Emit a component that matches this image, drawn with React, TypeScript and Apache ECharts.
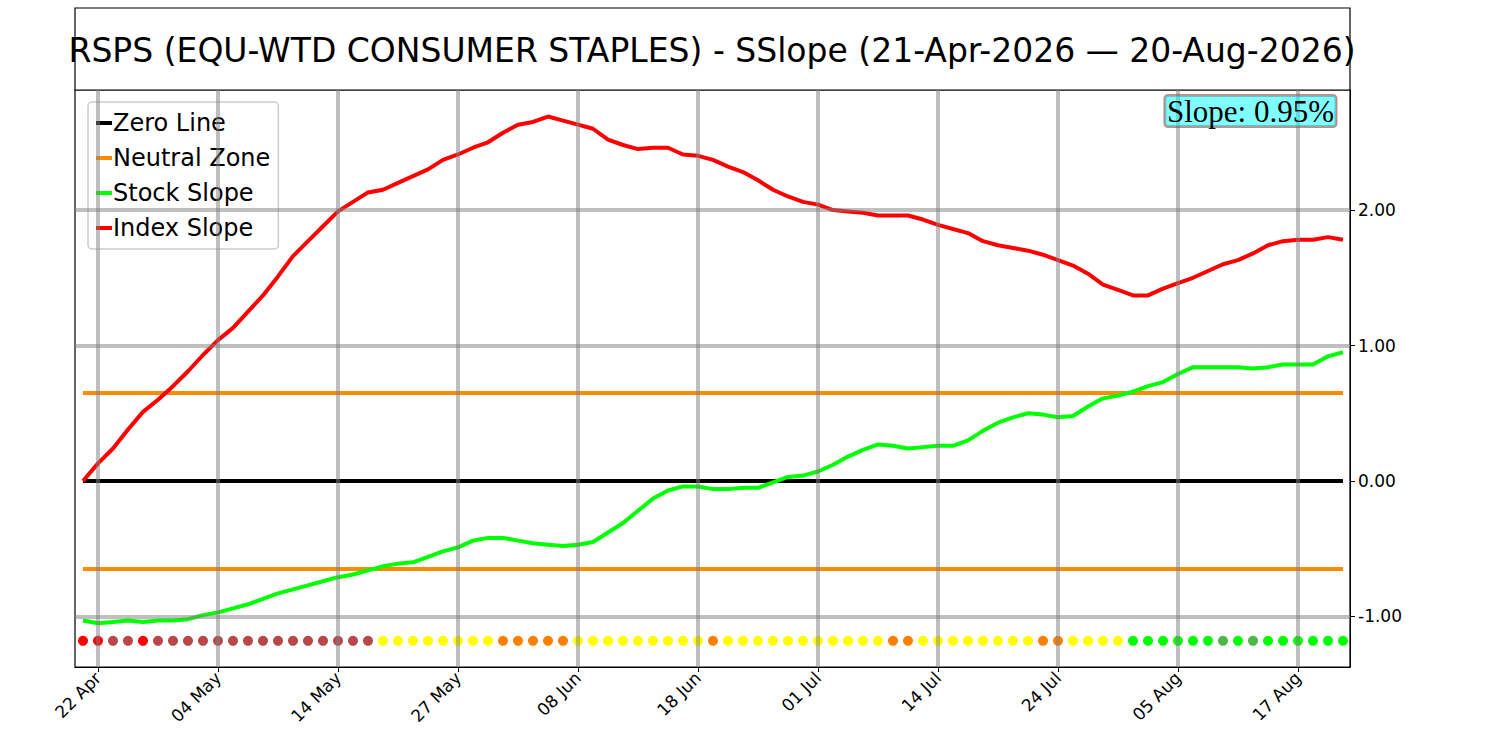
import { useRef, useEffect } from "react";
import * as echarts from "echarts";

const indexSlope = [
  0, 0.13, 0.24, 0.38, 0.51, 0.6, 0.7, 0.81, 0.93, 1.04, 1.13, 1.25, 1.37, 1.51, 1.66, 1.77, 1.88,
  1.99, 2.06, 2.13, 2.15, 2.2, 2.25, 2.3, 2.37, 2.41, 2.46, 2.5, 2.57, 2.63, 2.65, 2.69, 2.66, 2.63,
  2.6, 2.52, 2.48, 2.45, 2.46, 2.46, 2.41, 2.4, 2.37, 2.32, 2.28, 2.22, 2.15, 2.1, 2.06, 2.04, 2.0,
  1.99, 1.98, 1.96, 1.96, 1.96, 1.93, 1.89, 1.86, 1.83, 1.77, 1.74, 1.72, 1.7, 1.67, 1.63, 1.59,
  1.53, 1.45, 1.41, 1.37, 1.37, 1.42, 1.46, 1.5, 1.55, 1.6, 1.63, 1.68, 1.74, 1.77, 1.78, 1.78,
  1.8, 1.78,
];

const stockSlope = [
  -1.03, -1.05, -1.04, -1.03, -1.04, -1.03, -1.03, -1.02, -0.99, -0.97, -0.94, -0.91, -0.87, -0.83,
  -0.8, -0.77, -0.74, -0.71, -0.69, -0.66, -0.63, -0.61, -0.6, -0.56, -0.52, -0.49, -0.44, -0.42,
  -0.42, -0.44, -0.46, -0.47, -0.48, -0.47, -0.45, -0.38, -0.31, -0.22, -0.13, -0.07, -0.04, -0.04,
  -0.06, -0.06, -0.05, -0.05, -0.01, 0.03, 0.04, 0.07, 0.12, 0.18, 0.23, 0.27, 0.26, 0.24, 0.25,
  0.26, 0.26, 0.3, 0.37, 0.43, 0.47, 0.5, 0.49, 0.47, 0.48, 0.55, 0.61, 0.63, 0.66, 0.7, 0.73, 0.79,
  0.84, 0.84, 0.84, 0.84, 0.83, 0.84, 0.86, 0.86, 0.86, 0.92, 0.95,
];

// R red, B brown, Y yellow, O orange, G green, D dark green
const dotCodes =
  "RRBBRBBBBBBBBBBBBBBB" + "YYYYYYYY" + "OOOOO" + "YYYYYYYYY" + "O" + "YYYYYYYYYYY" + "OO" +
  "YYYYYYYY" + "OO" + "YYYY" + "GGGGGGDGDGGGGGG";
const dotColors: Record<string, string> = {
  R: "#ff0000",
  B: "#b94747",
  Y: "#ffff00",
  O: "#ff8000",
  G: "#00ff00",
  D: "#4cb846",
};

const tickIdx = [1, 9, 17, 25, 33, 41, 49, 57, 65, 73, 81];
const tickLabels = [
  "22 Apr", "04 May", "14 May", "27 May", "08 Jun", "18 Jun",
  "01 Jul", "14 Jul", "24 Jul", "05 Aug", "17 Aug",
];
const yTicks = [-1, 0, 1, 2];
const neutral = 0.65;
const dotLevel = -1.18;

const App = () => {
  const chartRef = useRef<HTMLDivElement>(null);

  useEffect(() => {
    document.body.style.margin = "0";
    if (!chartRef.current) return;
    const chart = echarts.init(chartRef.current, null, { renderer: "svg" });
    const last = indexSlope.length - 1;
    const grey = "rgba(128,128,128,0.5)";
    const font = "DejaVu Sans";

    chart.setOption({
      animation: false,
      textStyle: { fontFamily: font },
      grid: { left: 75, right: 150, top: 90, bottom: 83, show: true, borderColor: "#000", borderWidth: 1.2 },
      xAxis: {
        type: "value",
        min: -0.533,
        max: 84.467,
        axisLine: { show: true, onZero: false, lineStyle: { color: "#000" } },
        axisTick: { show: true, customValues: tickIdx, lineStyle: { color: "#000" } },
        axisLabel: {
          customValues: tickIdx,
          rotate: 45,
          color: "#000",
          fontSize: 17,
          formatter: (v: number) => tickLabels[tickIdx.indexOf(Math.round(v))] ?? "",
        },
        splitLine: { show: false },
      },
      yAxis: {
        type: "value",
        position: "right",
        min: -1.373,
        max: 2.886,
        axisLine: { show: true, onZero: false, lineStyle: { color: "#000" } },
        axisTick: { show: true, customValues: yTicks, lineStyle: { color: "#000" } },
        axisLabel: {
          customValues: yTicks,
          color: "#000",
          fontSize: 17,
          formatter: (v: number) => v.toFixed(2),
        },
        splitLine: { show: false },
      },
      legend: {
        data: ["Zero Line", "Neutral Zone", "Stock Slope", "Index Slope"],
        orient: "vertical",
        left: 88,
        top: 102,
        icon: "rect",
        itemWidth: 16,
        itemHeight: 4,
        itemGap: 11,
        padding: [9, 8, 9, 8],
        backgroundColor: "rgba(255,255,255,0.8)",
        borderColor: "#cccccc",
        borderWidth: 1.5,
        borderRadius: 4,
        textStyle: { fontSize: 24, color: "#000", padding: [0, 0, 0, -4] },
      },
      graphic: [
        {
          type: "rect",
          shape: { x: 75, y: 8, width: 1275, height: 82 },
          style: { fill: "#fff", stroke: "#000", lineWidth: 1.2 },
        },
        {
          type: "text",
          x: 712,
          y: 50,
          style: {
            text: "RSPS (EQU-WTD CONSUMER STAPLES) - SSlope (21-Apr-2026 \u2014 20-Aug-2026)",
            font: `33px "${font}"`,
            fill: "#000",
            align: "center",
            verticalAlign: "middle",
          },
        },
        {
          type: "text",
          x: 1336,
          y: 111,
          z: 100,
          style: {
            text: "Slope: 0.95%",
            font: '31px "Liberation Serif"',
            fill: "#000",
            align: "right",
            verticalAlign: "middle",
            backgroundColor: "rgba(0,255,255,0.5)",
            borderColor: "rgba(160,60,60,0.6)",
            borderWidth: 1.5,
            borderRadius: 3,
            padding: [0, 2, 0, 2],
          },
        },
      ],
      series: [
        {
          name: "grid",
          type: "line",
          data: [],
          silent: true,
          markLine: {
            symbol: "none",
            silent: true,
            label: { show: false },
            lineStyle: { color: grey, width: 4, type: "solid" },
            data: [
              ...tickIdx.map((i) => ({ xAxis: i })),
              ...yTicks.filter((v) => v !== 0).map((v) => ({ yAxis: v })),
            ],
          },
        },
        {
          name: "Zero Line",
          type: "line",
          data: [[0, 0], [last, 0]],
          symbol: "none",
          color: "#000",
          lineStyle: { color: "#000", width: 4 },
        },
        {
          name: "Neutral Zone",
          type: "line",
          data: [[0, neutral], [last, neutral]],
          symbol: "none",
          color: "#ff8c00",
          lineStyle: { color: "#ff8c00", width: 4 },
        },
        {
          name: "Neutral Zone",
          type: "line",
          data: [[0, -neutral], [last, -neutral]],
          symbol: "none",
          color: "#ff8c00",
          lineStyle: { color: "#ff8c00", width: 4 },
        },
        {
          name: "Stock Slope",
          type: "line",
          data: stockSlope.map((v, i) => [i, v]),
          symbol: "none",
          color: "#00ff00",
          lineStyle: { color: "#00ff00", width: 4 },
        },
        {
          name: "Index Slope",
          type: "line",
          data: indexSlope.map((v, i) => [i, v]),
          symbol: "none",
          color: "#ff0000",
          lineStyle: { color: "#ff0000", width: 4 },
        },
        {
          name: "dots",
          type: "scatter",
          symbolSize: 10,
          data: dotCodes.split("").map((c, i) => ({
            value: [i, dotLevel],
            itemStyle: { color: dotColors[c], opacity: 1 },
          })),
        },
      ],
    });

    return () => chart.dispose();
  }, []);

  return <div ref={chartRef} style={{ width: 1500, height: 750 }} />;
};

export default App;
